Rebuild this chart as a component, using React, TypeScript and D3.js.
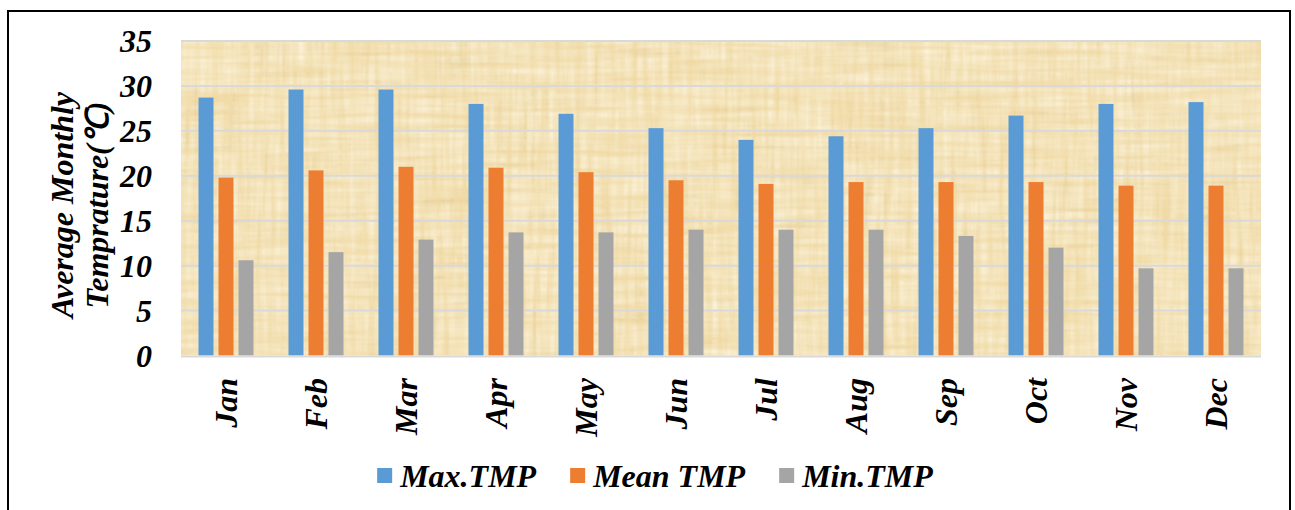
import React, { useEffect, useRef } from 'react';
import * as d3 from 'd3';

// chart values
const months = ['Jan', 'Feb', 'Mar', 'Apr', 'May', 'Jun', 'Jul', 'Aug', 'Sep', 'Oct', 'Nov', 'Dec'];
const seriesNames = ['Max.TMP', 'Mean TMP', 'Min.TMP'];
const maxTmp = [28.7, 29.6, 29.6, 28.0, 26.9, 25.3, 24.0, 24.4, 25.3, 26.7, 28.0, 28.2];
const meanTmp = [19.8, 20.6, 21.0, 20.9, 20.4, 19.5, 19.1, 19.3, 19.3, 19.3, 18.9, 18.9];
const minTmp = [10.6, 11.5, 12.9, 13.7, 13.7, 14.0, 14.0, 14.0, 13.3, 12.0, 9.7, 9.7];
const yTicks = [0, 5, 10, 15, 20, 25, 30, 35];
const yTitle = ['Average Monthly', 'Temprature(℃)'];

const colors = ['#5B9BD5', '#ED7D31', '#A5A5A5'];
const FONT = '"Liberation Serif", "Times New Roman", serif';

const W = 1295;
const H = 510;

export default function App() {
  const svgRef = useRef<SVGSVGElement>(null);

  useEffect(() => {
    const svgEl = svgRef.current;
    if (!svgEl) return;
    const svg = d3.select(svgEl);
    svg.selectAll('*').remove();

    const plot = { left: 181, right: 1261, top: 41, bottom: 355.5 };
    const values = [maxTmp, meanTmp, minTmp];

    const x0 = d3.scaleBand<string>().domain(months).range([plot.left, plot.right]);
    const x1 = d3.scaleBand<string>().domain(seriesNames).range([-27.5, 27.5]).paddingInner(0.25);
    const y = d3.scaleLinear().domain([0, 35]).range([plot.bottom, plot.top]);

    // papyrus-like texture: dark and light fibres from two stretched noises
    const defs = svg.append('defs');
    const fibre = (id: string, seedH: number, seedV: number, rgb: string, alpha: string) => {
      const f = defs.append('filter').attr('id', id)
        .attr('x', 0).attr('y', 0).attr('width', 1).attr('height', 1);
      f.append('feTurbulence').attr('type', 'fractalNoise')
        .attr('baseFrequency', '0.012 0.16').attr('numOctaves', 2).attr('seed', seedH).attr('result', 'h');
      f.append('feTurbulence').attr('type', 'fractalNoise')
        .attr('baseFrequency', '0.16 0.012').attr('numOctaves', 2).attr('seed', seedV).attr('result', 'v');
      f.append('feBlend').attr('in', 'h').attr('in2', 'v').attr('mode', 'multiply').attr('result', 'n');
      f.append('feColorMatrix').attr('in', 'n').attr('type', 'matrix')
        .attr('values', `0 0 0 0 ${rgb.split(' ')[0]}  0 0 0 0 ${rgb.split(' ')[1]}  0 0 0 0 ${rgb.split(' ')[2]}  ${alpha}`);
    };
    fibre('papyrusDark', 4, 9, '0.62 0.47 0.22', '-1.1 0 0 0 0.42');
    fibre('papyrusLight', 12, 21, '1 0.97 0.85', '1.3 0 0 0 -0.28');

    // outer frame
    svg.append('rect')
      .attr('x', 8).attr('y', 11).attr('width', 1282).attr('height', 520)
      .attr('fill', '#fff').attr('stroke', '#000').attr('stroke-width', 2);

    // plot background
    const bg = (fill: string, filter?: string) => {
      const r = svg.append('rect')
        .attr('x', plot.left).attr('y', plot.top)
        .attr('width', plot.right - plot.left).attr('height', plot.bottom - plot.top)
        .attr('fill', fill);
      if (filter) r.attr('filter', `url(#${filter})`);
    };
    bg('#F0DAA6');
    bg('#000', 'papyrusDark');
    bg('#000', 'papyrusLight');

    // grid lines
    svg.append('g')
      .selectAll('line')
      .data(yTicks.filter(t => t > 0))
      .enter()
      .append('line')
      .attr('x1', plot.left).attr('x2', plot.right)
      .attr('y1', d => y(d)).attr('y2', d => y(d))
      .attr('stroke', '#D9D9D9').attr('stroke-width', 2);

    // bars
    const groups = svg.append('g')
      .selectAll('g')
      .data(months)
      .enter()
      .append('g')
      .attr('transform', d => `translate(${(x0(d) ?? 0) + x0.bandwidth() / 2},0)`);
    groups.selectAll('rect')
      .data((_, i) => seriesNames.map((name, s) => ({ name, s, v: values[s][i] })))
      .enter()
      .append('rect')
      .attr('x', d => x1(d.name) ?? 0)
      .attr('width', x1.bandwidth())
      .attr('y', d => y(d.v))
      .attr('height', d => y(0) - y(d.v))
      .attr('fill', d => colors[d.s]);

    // x axis line
    svg.append('line')
      .attr('x1', plot.left).attr('x2', plot.right)
      .attr('y1', plot.bottom + 1).attr('y2', plot.bottom + 1)
      .attr('stroke', '#D9D9D9').attr('stroke-width', 2);

    const bold = (sel: d3.Selection<SVGTextElement, any, any, any>) =>
      sel.attr('font-family', FONT).attr('font-weight', 'bold')
        .attr('font-style', 'italic').attr('fill', '#000');

    // y tick labels
    svg.append('g')
      .selectAll('text')
      .data(yTicks)
      .enter()
      .append('text')
      .attr('x', 152)
      .attr('y', d => y(d))
      .attr('dy', '0.35em')
      .attr('text-anchor', 'end')
      .attr('font-size', 32)
      .text(d => d)
      .call(bold);

    // x tick labels (rotated)
    svg.append('g')
      .selectAll('text')
      .data(months)
      .enter()
      .append('text')
      .attr('transform', d => `translate(${(x0(d) ?? 0) + x0.bandwidth() / 2},378) rotate(-90)`)
      .attr('dy', '0.35em')
      .attr('text-anchor', 'end')
      .attr('font-size', 32)
      .text(d => d)
      .call(bold);

    // y axis title
    svg.append('g')
      .selectAll('text')
      .data(yTitle)
      .enter()
      .append('text')
      .attr('transform', (_, i) => `translate(${62 + i * 35},205) rotate(-90)`)
      .attr('dy', '0.35em')
      .attr('text-anchor', 'middle')
      .attr('font-size', 32)
      .text(d => d)
      .call(bold);

    // legend
    const legend = svg.append('g');
    const items = legend.selectAll('g')
      .data(seriesNames)
      .enter()
      .append('g');
    items.append('rect')
      .attr('width', 15).attr('height', 15)
      .attr('y', -8)
      .attr('fill', (_, i) => colors[i]);
    items.append('text')
      .attr('x', 23)
      .attr('dy', '0.35em')
      .attr('font-size', 32)
      .text(d => d)
      .call(bold);
    let cx = 0;
    const widths: number[] = [];
    items.each(function () {
      const t = d3.select(this).select<SVGTextElement>('text').node();
      widths.push(23 + (t ? t.getComputedTextLength() : 100));
    });
    const gap = 34;
    const total = d3.sum(widths) + gap * (widths.length - 1);
    const start = 655 - total / 2;
    items.attr('transform', (_, i) => {
      const tx = start + cx;
      cx += widths[i] + gap;
      return `translate(${tx},476)`;
    });
  }, []);

  return (
    <div style={{ position: 'absolute', left: 0, top: 0 }}>
      <svg ref={svgRef} width={W} height={H} style={{ display: 'block' }} />
    </div>
  );
}
